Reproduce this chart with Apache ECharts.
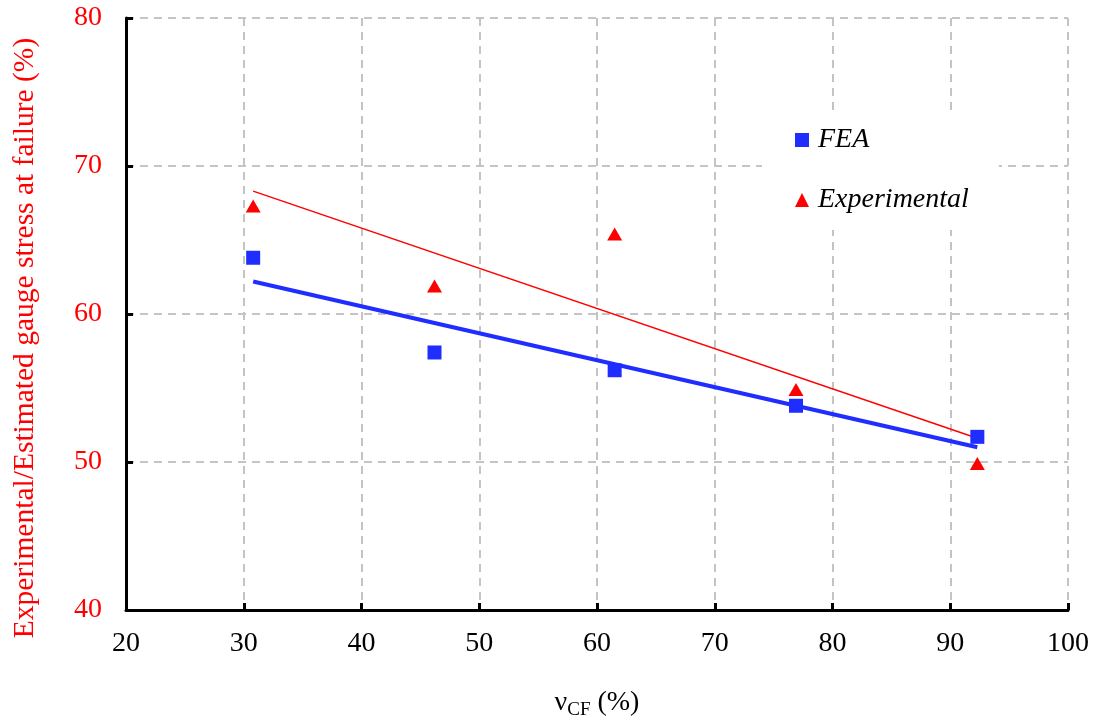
<!DOCTYPE html>
<html>
<head>
<meta charset="utf-8">
<title>Gauge stress at failure vs vCF</title>
<script src="https://cdn.jsdelivr.net/npm/echarts@6/dist/echarts.min.js"></script>
<style>
  html, body { margin: 0; padding: 0; background: #fff; }
  #chart { width: 1094px; height: 725px; }
</style>
</head>
<body>
<div id="chart"></div>
<script>
// data
var vcf = [30.8, 46.2, 61.5, 76.9, 92.3];
var feaValues = [63.8, 57.4, 56.2, 53.8, 51.7];
var expValues = [67.3, 61.9, 65.4, 54.9, 49.9];
// trend line ends
var feaTrendX = [30.8, 92.3];
var feaTrendY = [62.2, 51.0];
var expTrendX = [30.8, 92.3];
var expTrendY = [68.3, 51.6];

var xTicks = [20, 30, 40, 50, 60, 70, 80, 90, 100];
var yTicks = [40, 50, 60, 70, 80];

function pairs(xs, ys) {
  return xs.map(function (x, i) { return [x, ys[i]]; });
}

var serif = '"Liberation Serif", "DejaVu Serif", serif';
var blue = '#1f2eff';
var red = '#ff0000';

var myChart = echarts.init(document.getElementById('chart'));

var option = {
  backgroundColor: '#fff',
  animation: false,
  grid: {
    left: 126,
    right: 26,
    top: 18,
    bottom: 108
  },
  legend: {
    data: [
      { name: 'FEA', icon: 'rect' },
      { name: 'Experimental', icon: 'triangle' }
    ],
    orient: 'vertical',
    left: 762,
    top: 114,
    padding: [12, 30, 16, 33],
    itemGap: 32,
    itemWidth: 14,
    itemHeight: 14,
    backgroundColor: '#fff',
    textStyle: {
      fontFamily: serif,
      fontStyle: 'italic',
      fontSize: 28,
      color: '#000',
      padding: [0, 0, 0, 4]
    }
  },
  xAxis: {
    type: 'value',
    min: 20,
    max: 100,
    interval: 10,
    name: '{v|ν}{sub|CF}{v| (%)}',
    nameLocation: 'middle',
    nameGap: 75,
    nameTextStyle: {
      rich: {
        v: { fontFamily: serif, fontSize: 28, color: '#000' },
        sub: { fontFamily: serif, fontSize: 19, color: '#000', verticalAlign: 'bottom', padding: [16, 0, 0, 0] }
      }
    },
    axisLine: { lineStyle: { color: '#000', width: 3 } },
    axisTick: { inside: true, length: 7, lineStyle: { color: '#000', width: 3 } },
    axisLabel: {
      margin: 20,
      fontFamily: serif,
      fontSize: 28,
      color: '#000',
      formatter: function (v) { return xTicks.indexOf(v) >= 0 ? String(v) : ''; }
    },
    splitLine: { show: true, lineStyle: { color: '#c4c4c4', type: [8, 6], width: 2 } }
  },
  yAxis: {
    type: 'value',
    min: 40,
    max: 80,
    interval: 10,
    name: 'Experimental/Estimated gauge stress at failure (%)',
    nameLocation: 'middle',
    nameGap: 86,
    nameTextStyle: { fontFamily: serif, fontSize: 29.5, color: red, padding: [0, 48, 0, 0] },
    axisLine: { lineStyle: { color: '#000', width: 3 } },
    axisTick: { inside: true, length: 7, lineStyle: { color: '#000', width: 3 } },
    axisLabel: {
      margin: 24,
      fontFamily: serif,
      fontSize: 28,
      color: red,
      formatter: function (v) { return yTicks.indexOf(v) >= 0 ? String(v) : ''; }
    },
    splitLine: { show: true, lineStyle: { color: '#c4c4c4', type: [8, 6], width: 2 } }
  },
  series: [
    {
      name: 'FEA trend',
      type: 'line',
      data: pairs(feaTrendX, feaTrendY),
      symbol: 'none',
      lineStyle: { color: blue, width: 4 },
      z: 2
    },
    {
      name: 'Experimental trend',
      type: 'line',
      data: pairs(expTrendX, expTrendY),
      symbol: 'none',
      lineStyle: { color: red, width: 1.5 },
      z: 2
    },
    {
      name: 'FEA',
      type: 'scatter',
      data: pairs(vcf, feaValues),
      symbol: 'rect',
      symbolSize: 14,
      itemStyle: { color: blue, opacity: 1 },
      z: 3
    },
    {
      name: 'Experimental',
      type: 'scatter',
      data: pairs(vcf, expValues),
      symbol: 'triangle',
      symbolSize: [15, 13],
      itemStyle: { color: red, opacity: 1 },
      z: 3
    }
  ]
};

myChart.setOption(option);
</script>
</body>
</html>
